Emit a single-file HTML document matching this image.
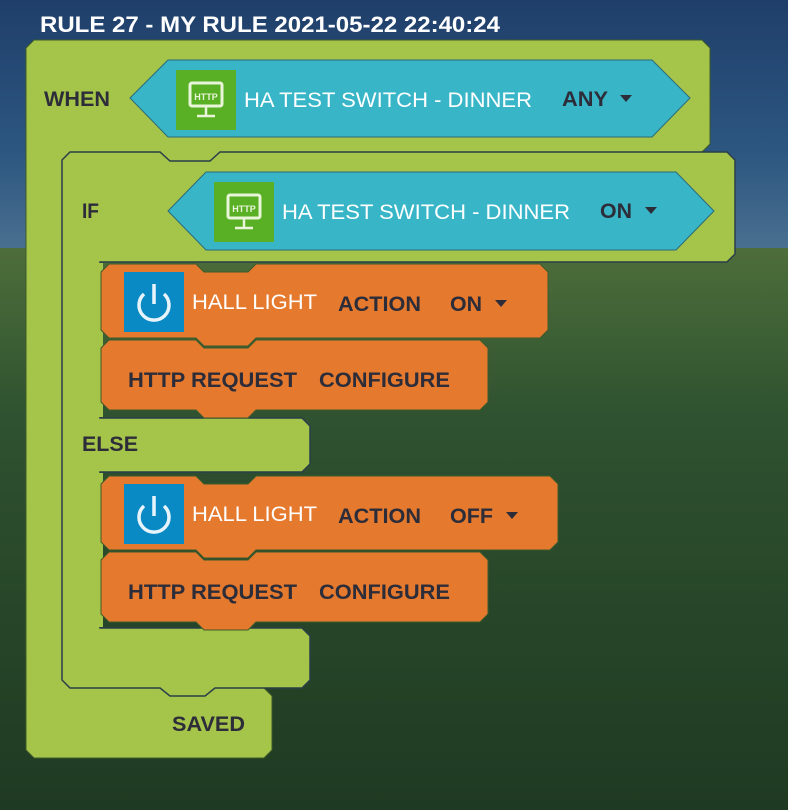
<!DOCTYPE html>
<html><head><meta charset="utf-8"><style>
html,body{margin:0;padding:0;width:788px;height:810px;overflow:hidden}
svg{display:block}
text{font-family:"Liberation Sans",sans-serif;font-weight:bold}
text.n{font-weight:normal}
</style></head><body>
<svg width="788" height="810" viewBox="0 0 788 810" xmlns="http://www.w3.org/2000/svg">
<defs>
<linearGradient id="sky" x1="0" y1="0" x2="0" y2="1">
<stop offset="0" stop-color="#1f3f6a"/><stop offset="0.6" stop-color="#2c5680"/><stop offset="1" stop-color="#4a7090"/>
</linearGradient>
<linearGradient id="field" x1="0" y1="0" x2="0" y2="1">
<stop offset="0" stop-color="#4d6e3a"/><stop offset="0.3" stop-color="#2f5230"/><stop offset="1" stop-color="#1f3a22"/>
</linearGradient>
<g id="http">
<rect width="60" height="60" fill="#5ab025"/>
<rect x="14" y="13" width="32" height="23" fill="none" stroke="#e8f5d8" stroke-width="3" rx="2"/>
<text x="30" y="30" font-size="9" fill="#e8f5d8" text-anchor="middle">HTTP</text>
<line x1="30" y1="37" x2="30" y2="45" stroke="#e8f5d8" stroke-width="2.5"/>
<line x1="21" y1="46" x2="39" y2="46" stroke="#e8f5d8" stroke-width="2.5"/>
</g>
<g id="pwr">
<rect width="60" height="60" fill="#0a8ac4"/>
<path d="M20,22 A15,15 0 1 0 40,22" fill="none" stroke="#e8f4fb" stroke-width="3.5"/>
<line x1="30" y1="12" x2="30" y2="32" stroke="#e8f4fb" stroke-width="3.5"/>
</g>
</defs>
<rect width="788" height="250" fill="url(#sky)"/>
<rect y="248" width="788" height="562" fill="url(#field)"/>
<text x="40" y="32" font-size="22" fill="#fff" textLength="460" lengthAdjust="spacingAndGlyphs">RULE 27 - MY RULE 2021-05-22 22:40:24</text>

<!-- outer WHEN block -->
<path d="M34,40 H702 L710,48 V144 L702,152 H62 V688 H264 L272,696 V750 L264,758 H34 L26,750 V48 Z" fill="#a5c44a" stroke="#3e5a2a" stroke-width="1"/>
<rect x="150" y="150" width="80" height="14" fill="#a5c44a"/>
<rect x="60" y="150" width="12" height="12" fill="#a5c44a"/>
<rect x="60" y="678" width="12" height="12" fill="#a5c44a"/>
<text x="44" y="106" font-size="21" fill="#2d2d3a" textLength="66" lengthAdjust="spacingAndGlyphs">WHEN</text>
<polygon points="130,98 168,60 652,60 690,98 652,137 168,137" fill="#38b6c8" stroke="#2a6a7a" stroke-width="1"/>
<use href="#http" x="176" y="70"/>
<text class="n" x="244" y="107" font-size="21" fill="#fff" textLength="288" lengthAdjust="spacingAndGlyphs">HA TEST SWITCH - DINNER</text>
<text x="562" y="106" font-size="21" fill="#2d2d3a" textLength="46" lengthAdjust="spacingAndGlyphs">ANY</text>
<polygon points="620,95 632,95 626,102" fill="#2d2d3a"/>

<!-- inner IF block -->
<path d="M70,152 H160 L170,161 H210 L220,152 H727 L735,160 V254 L727,262 H100 V418 H302 L310,426 V464 L302,472 H100 V628 H302 L310,636 V680 L302,688 H215 L205,696 H170 L160,688 H70 L62,680 V160 Z" fill="#a5c44a" stroke="#2a3e4a" stroke-width="1.5"/>
<rect x="98" y="263" width="5" height="154" fill="#a5c44a"/>
<rect x="98" y="473" width="5" height="154" fill="#a5c44a"/>
<text x="82" y="218" font-size="21" fill="#2d2d3a" textLength="17" lengthAdjust="spacingAndGlyphs">IF</text>
<polygon points="168,211 206,172 676,172 714,211 676,250 206,250" fill="#38b6c8" stroke="#2a6a7a" stroke-width="1"/>
<use href="#http" x="214" y="182"/>
<text class="n" x="282" y="219" font-size="21" fill="#fff" textLength="288" lengthAdjust="spacingAndGlyphs">HA TEST SWITCH - DINNER</text>
<text x="600" y="218" font-size="21" fill="#2d2d3a" textLength="32" lengthAdjust="spacingAndGlyphs">ON</text>
<polygon points="645,207 657,207 651,214" fill="#2d2d3a"/>

<!-- orange blocks set 1 -->
<path d="M109,340 H196 L204,348 H248 L256,340 H480 L488,348 V402 L480,410 H256 L248,418 H204 L196,410 H109 L101,402 V348 Z" fill="#e57a2e" stroke="#3e5a2a" stroke-width="1"/>
<path d="M109,264 H196 L204,272 H248 L256,264 H540 L548,272 V330 L540,338 H256 L248,346 H204 L196,338 H109 L101,330 V272 Z" fill="#e57a2e" stroke="#3e5a2a" stroke-width="1"/>
<use href="#pwr" x="124" y="272"/>
<text class="n" x="192" y="309" font-size="21" fill="#fff" textLength="125" lengthAdjust="spacingAndGlyphs">HALL LIGHT</text>
<text x="338" y="311" font-size="21" fill="#2d2d3a" textLength="83" lengthAdjust="spacingAndGlyphs">ACTION</text>
<text x="450" y="311" font-size="21" fill="#2d2d3a" textLength="32" lengthAdjust="spacingAndGlyphs">ON</text>
<polygon points="495,300 507,300 501,307" fill="#2d2d3a"/>
<text x="128" y="387" font-size="21" fill="#2d2d3a" textLength="169" lengthAdjust="spacingAndGlyphs">HTTP REQUEST</text>
<text x="319" y="387" font-size="21" fill="#2d2d3a" textLength="131" lengthAdjust="spacingAndGlyphs">CONFIGURE</text>

<text x="82" y="451" font-size="21" fill="#2d2d3a" textLength="56" lengthAdjust="spacingAndGlyphs">ELSE</text>

<!-- orange blocks set 2 -->
<path d="M109,552 H196 L204,560 H248 L256,552 H480 L488,560 V614 L480,622 H256 L248,630 H204 L196,622 H109 L101,614 V560 Z" fill="#e57a2e" stroke="#3e5a2a" stroke-width="1"/>
<path d="M109,476 H196 L204,484 H248 L256,476 H550 L558,484 V542 L550,550 H256 L248,558 H204 L196,550 H109 L101,542 V484 Z" fill="#e57a2e" stroke="#3e5a2a" stroke-width="1"/>
<use href="#pwr" x="124" y="484"/>
<text class="n" x="192" y="521" font-size="21" fill="#fff" textLength="125" lengthAdjust="spacingAndGlyphs">HALL LIGHT</text>
<text x="338" y="523" font-size="21" fill="#2d2d3a" textLength="83" lengthAdjust="spacingAndGlyphs">ACTION</text>
<text x="450" y="523" font-size="21" fill="#2d2d3a" textLength="43" lengthAdjust="spacingAndGlyphs">OFF</text>
<polygon points="506,512 518,512 512,519" fill="#2d2d3a"/>
<text x="128" y="599" font-size="21" fill="#2d2d3a" textLength="169" lengthAdjust="spacingAndGlyphs">HTTP REQUEST</text>
<text x="319" y="599" font-size="21" fill="#2d2d3a" textLength="131" lengthAdjust="spacingAndGlyphs">CONFIGURE</text>

<text x="172" y="731" font-size="21" fill="#2d2d3a" textLength="73" lengthAdjust="spacingAndGlyphs">SAVED</text>
</svg>
</body></html>
